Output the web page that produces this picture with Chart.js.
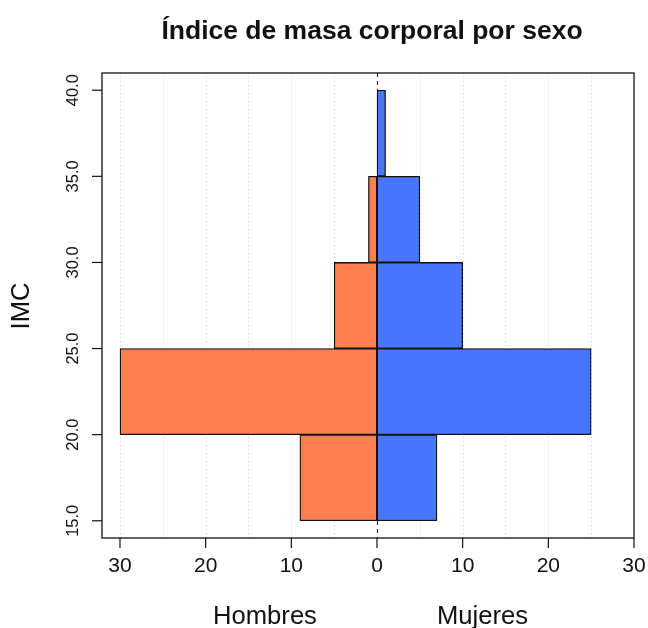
<!DOCTYPE html>
<html>
<head>
<meta charset="utf-8">
<script src="https://cdn.jsdelivr.net/npm/chart.js@4"></script>
<style>
  html, body { margin: 0; padding: 0; background: #fff; }
  #wrap { width: 648px; height: 628px; position: relative; }
</style>
</head>
<body>
<div id="wrap"><canvas id="c" width="648" height="628"></canvas></div>
<script>
// Bin midpoints of IMC classes (15-20, 20-25, 25-30, 30-35, 35-40)
const binMids = [17.5, 22.5, 27.5, 32.5, 37.5];
const hombres = [9, 30, 5, 1, 0];
const mujeres = [7, 25, 10, 5, 1];
const yTicks = [15, 20, 25, 30, 35, 40];
const xTicks = [-30, -20, -10, 0, 10, 20, 30];
const xGrid = [-30, -25, -20, -15, -10, -5, 5, 10, 15, 20, 25];
const title = 'Índice de masa corporal por sexo';
const yTitle = 'IMC';
const leftLabel = 'Hombres';
const rightLabel = 'Mujeres';

const FONT = '"Liberation Sans", Arial, Helvetica, sans-serif';

const decor = {
  id: 'decor',
  beforeDatasetsDraw(chart) {
    const { ctx, chartArea: a, scales: { x } } = chart;
    ctx.save();
    ctx.strokeStyle = '#cfcfcf';
    ctx.lineWidth = 1;
    ctx.setLineDash([1, 3]);
    xGrid.forEach(v => {
      const px = Math.round(x.getPixelForValue(v)) + 0.5;
      ctx.beginPath(); ctx.moveTo(px, a.top); ctx.lineTo(px, a.bottom); ctx.stroke();
    });
    ctx.strokeStyle = '#222';
    ctx.setLineDash([4, 4]);
    const p0 = Math.round(x.getPixelForValue(0)) + 0.5;
    ctx.beginPath(); ctx.moveTo(p0, a.top); ctx.lineTo(p0, a.bottom); ctx.stroke();
    ctx.restore();
  },
  afterDatasetsDraw(chart) {
    const { ctx, chartArea: a, scales: { x, y } } = chart;
    ctx.save();
    ctx.setLineDash([]);
    ctx.strokeStyle = '#111';
    ctx.lineWidth = 1.3;
    ctx.strokeRect(a.left, a.top, a.right - a.left, a.bottom - a.top);

    // y ticks
    ctx.lineWidth = 1.2;
    ctx.fillStyle = '#111';
    ctx.font = '16.5px ' + FONT;
    yTicks.forEach(v => {
      const py = y.getPixelForValue(v);
      ctx.beginPath(); ctx.moveTo(a.left - 10, py); ctx.lineTo(a.left, py); ctx.stroke();
      ctx.save();
      ctx.translate(73, py);
      ctx.rotate(-Math.PI / 2);
      ctx.textAlign = 'center';
      ctx.textBaseline = 'middle';
      ctx.fillText(v.toFixed(1), 0, 0);
      ctx.restore();
    });

    // x ticks
    ctx.font = '21px ' + FONT;
    ctx.textAlign = 'center';
    ctx.textBaseline = 'middle';
    xTicks.forEach(v => {
      const px = x.getPixelForValue(v);
      ctx.beginPath(); ctx.moveTo(px, a.bottom); ctx.lineTo(px, a.bottom + 10); ctx.stroke();
      ctx.fillText(String(Math.abs(v)), px, 566);
    });

    // side labels
    ctx.font = '25.6px ' + FONT;
    ctx.textBaseline = 'alphabetic';
    ctx.fillText(leftLabel, 265, 624);
    ctx.fillText(rightLabel, 482.5, 624);

    // y title
    ctx.save();
    ctx.translate(29, 306);
    ctx.rotate(-Math.PI / 2);
    ctx.textAlign = 'center';
    ctx.textBaseline = 'alphabetic';
    ctx.fillText(yTitle, 0, 0);
    ctx.restore();

    // title
    ctx.font = 'bold 26.5px ' + FONT;
    ctx.textAlign = 'center';
    ctx.textBaseline = 'alphabetic';
    ctx.fillText(title, 372, 39);
    ctx.restore();
  }
};

const barStyle = {
  borderColor: '#111',
  borderWidth: 1.3,
  borderSkipped: false,
  barThickness: 'flex',
  barPercentage: 1,
  categoryPercentage: 1
};

new Chart(document.getElementById('c'), {
  type: 'bar',
  data: {
    datasets: [
      Object.assign({
        label: leftLabel,
        data: binMids.map((m, i) => ({ y: m, x: -hombres[i] })),
        backgroundColor: '#FF7F50'
      }, barStyle),
      Object.assign({
        label: rightLabel,
        data: binMids.map((m, i) => ({ y: m, x: mujeres[i] })),
        backgroundColor: '#4876FF'
      }, barStyle)
    ]
  },
  options: {
    indexAxis: 'y',
    responsive: false,
    animation: false,
    events: [],
    layout: { padding: { left: 102, right: 14, top: 73, bottom: 90 } },
    plugins: { legend: { display: false }, tooltip: { enabled: false }, title: { display: false } },
    scales: {
      x: { type: 'linear', min: -32.1, max: 30, display: false, stacked: true },
      y: { type: 'linear', min: 14, max: 41, display: false, stacked: true, offset: false }
    }
  },
  plugins: [decor]
});
</script>
</body>
</html>
